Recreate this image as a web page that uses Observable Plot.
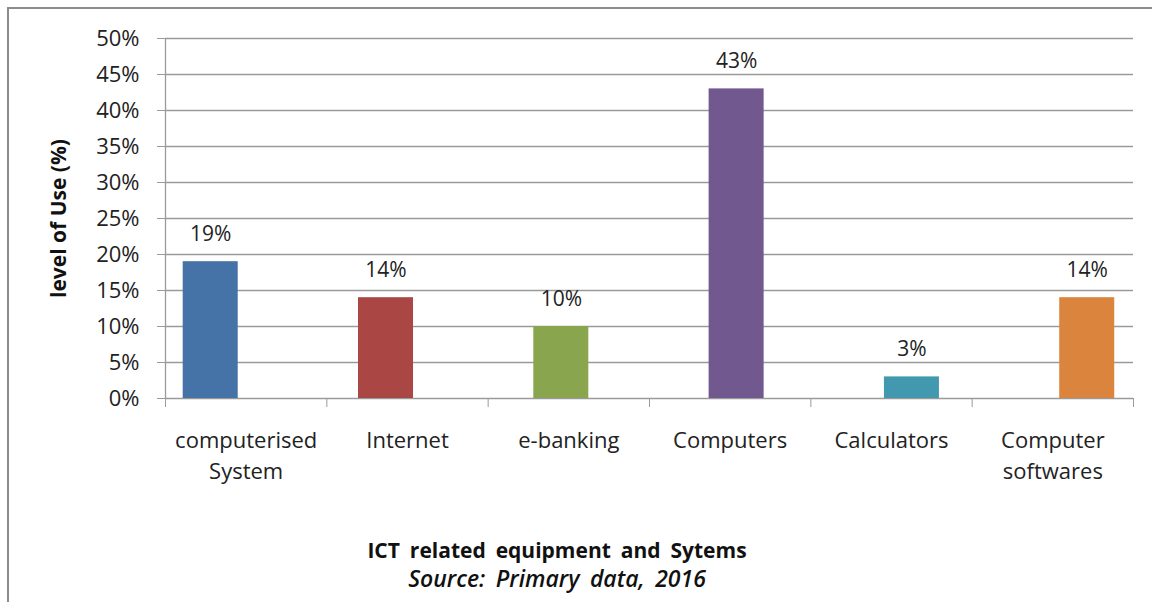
<!DOCTYPE html>
<html>
<head>
<meta charset="utf-8">
<script src="https://cdn.jsdelivr.net/npm/d3@7"></script>
<script src="https://cdn.jsdelivr.net/npm/@observablehq/plot@0.6"></script>
<style>
  body { margin: 0; background: #fff; font-family: "Open Sans", sans-serif; }
  #wrap { position: relative; width: 1152px; height: 602px; overflow: hidden; background: #fff; }
  #frame { position: absolute; left: 7px; top: 7px; width: 1300px; height: 800px;
           border-top: 2px solid #8c8c8c; border-left: 2px solid #8c8c8c; box-sizing: border-box; pointer-events: none; }
  #chart { position: absolute; left: 0; top: 0; }
  .cap { position: absolute; left: 0; width: 1114px; text-align: center; color: #111; line-height: 1; }
  #title { top: 540px; font-size: 21px; font-weight: bold; word-spacing: 4.5px; }
  #source { top: 567px; font-size: 23px; font-style: italic; font-weight: 600; word-spacing: 4.5px; }
</style>
</head>
<body>
<div id="wrap">
  <div id="chart"></div>
  <div id="frame"></div>
  <div id="title" class="cap">ICT related equipment and Sytems</div>
  <div id="source" class="cap">Source: Primary data, 2016</div>
</div>
<script>
// ---- data ----
const categories = ["computerised\nSystem", "Internet", "e-banking", "Computers", "Calculators", "Computer\nsoftwares"];
const values = [19, 14, 10, 43, 3, 14];
const colors = ["#4572A7", "#AA4643", "#89A54E", "#71588F", "#4198AF", "#DB843D"];
const yTicks = [0, 5, 10, 15, 20, 25, 30, 35, 40, 45, 50];
const yLabel = "level of Use (%)";

// ---- layout (category units of the x scale) ----
const barStep = 1.0866, barOffset = 0.1097, barWidth = 0.341;

const data = categories.map((c, i) => ({ i, label: c, value: values[i], color: colors[i] }));

const plot = Plot.plot({
  width: 1152,
  height: 602,
  marginTop: 38,
  marginBottom: 204,
  marginLeft: 165,
  marginRight: 19,
  style: { fontFamily: "Open Sans", fontSize: "22px", color: "#222", background: "transparent" },
  x: { type: "linear", domain: [0, categories.length], label: null },
  y: { domain: [0, 50], label: null },
  color: { type: "identity" },
  marks: [
    Plot.ruleY(yTicks, { stroke: "#9a9a9a", strokeWidth: 1.3 }),
    Plot.ruleX([0], { stroke: "#9a9a9a", strokeWidth: 1.3 }),
    Plot.axisY({ ticks: yTicks, tickFormat: d => d + "%", tickSize: 8, tickPadding: 18,
                 fontSize: 22, stroke: "#9a9a9a", fill: "#222", label: null }),
    Plot.axisX({ ticks: d3.range(categories.length + 1), tickSize: 9, tickFormat: () => "",
                 stroke: "#9a9a9a", label: null }),
    Plot.rectY(data, {
      x1: d => d.i * barStep + barOffset,
      x2: d => d.i * barStep + barOffset + barWidth,
      y1: 0, y2: "value", fill: "color"
    }),
    Plot.text(data, {
      x: d => d.i * barStep + barOffset + barWidth / 2,
      y: "value", text: d => d.value + "%",
      lineAnchor: "bottom", dy: -21, fontSize: 21, fill: "#222"
    }),
    Plot.text(data, {
      x: d => d.i + 0.5, y: () => 0, text: "label",
      lineAnchor: "top", dy: 27, fontSize: 22, lineHeight: 1.42, fill: "#222"
    }),
    Plot.text([yLabel], {
      frameAnchor: "left", textAnchor: "middle", dx: -106, rotate: -90, text: d => d,
      fontWeight: "bold", fontSize: 21, fill: "#111"
    })
  ]
});
document.getElementById("chart").appendChild(plot);
</script>
</body>
</html>
